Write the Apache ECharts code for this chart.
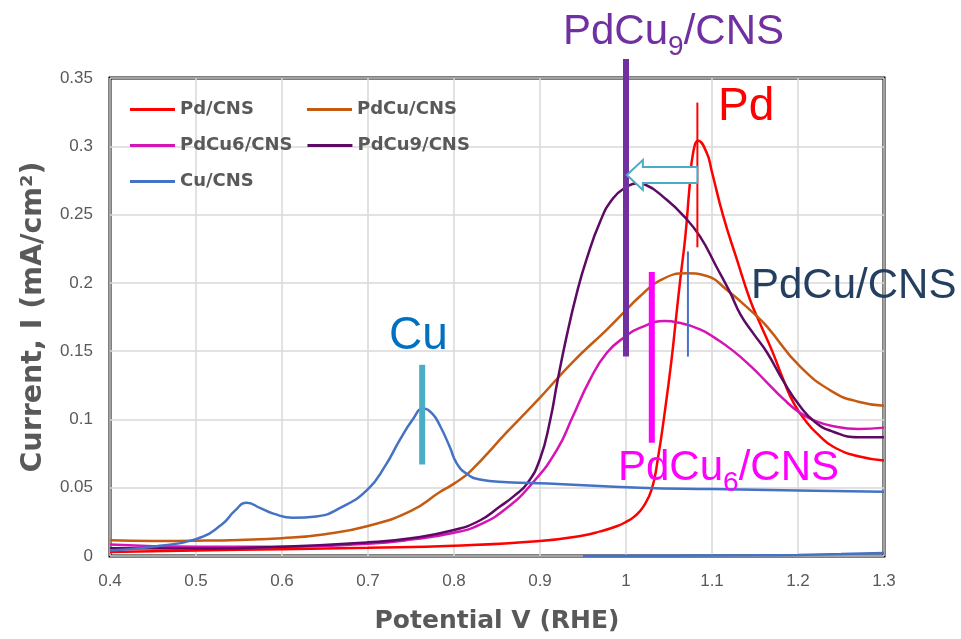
<!DOCTYPE html>
<html>
<head>
<meta charset="utf-8">
<script src="https://cdn.jsdelivr.net/npm/echarts@6/dist/echarts.min.js"></script>
<style>
  html, body { margin: 0; padding: 0; background: #ffffff; }
  #chart { width: 961px; height: 639px; }
</style>
</head>
<body>
<div id="chart"></div>
<script>
// Linear sweep voltammograms: [potential V vs RHE, current mA/cm²]
const seriesNames = ['Pd/CNS', 'PdCu/CNS', 'PdCu6/CNS', 'PdCu9/CNS', 'Cu/CNS'];

const pdCNS = [
  [0.40, 0.003], [0.50, 0.004], [0.60, 0.005], [0.70, 0.006], [0.80, 0.0075],
  [0.90, 0.011], [0.95, 0.015], [0.97, 0.018], [0.99, 0.022], [1.00, 0.025],
  [1.01, 0.029], [1.02, 0.036], [1.03, 0.049], [1.037, 0.071], [1.045, 0.105],
  [1.053, 0.144], [1.058, 0.173], [1.063, 0.202], [1.069, 0.234], [1.074, 0.271],
  [1.078, 0.295], [1.084, 0.304], [1.094, 0.295], [1.100, 0.281], [1.113, 0.249],
  [1.129, 0.217], [1.144, 0.188], [1.156, 0.170], [1.170, 0.150], [1.183, 0.129],
  [1.195, 0.112], [1.210, 0.098], [1.225, 0.088], [1.241, 0.080], [1.270, 0.073],
  [1.300, 0.070]
];

const pdCuCNS = [
  [0.40, 0.0115], [0.45, 0.011], [0.50, 0.0112], [0.55, 0.0118], [0.60, 0.013],
  [0.65, 0.016], [0.70, 0.022], [0.75, 0.033], [0.784, 0.047], [0.80, 0.053],
  [0.819, 0.062], [0.862, 0.091], [0.90, 0.116], [0.938, 0.142], [0.978, 0.166],
  [1.00, 0.180], [1.016, 0.190], [1.040, 0.202], [1.071, 0.207], [1.094, 0.205],
  [1.117, 0.195], [1.148, 0.178], [1.164, 0.168], [1.202, 0.139], [1.241, 0.120],
  [1.270, 0.113], [1.300, 0.110]
];

const pdCu6CNS = [
  [0.40, 0.0085], [0.50, 0.0068], [0.60, 0.0068], [0.70, 0.009], [0.75, 0.012],
  [0.80, 0.017], [0.83, 0.023], [0.861, 0.035], [0.892, 0.054], [0.92, 0.078],
  [0.938, 0.102], [0.958, 0.129], [0.978, 0.149], [1.00, 0.161], [1.016, 0.167],
  [1.045, 0.172], [1.060, 0.171], [1.086, 0.166], [1.105, 0.159], [1.125, 0.150],
  [1.145, 0.139], [1.164, 0.127], [1.183, 0.115], [1.202, 0.105], [1.220, 0.099],
  [1.241, 0.095], [1.270, 0.093], [1.300, 0.094]
];

const pdCu9CNS = [
  [0.40, 0.0056], [0.50, 0.0055], [0.60, 0.0068], [0.70, 0.010], [0.75, 0.013],
  [0.80, 0.019], [0.83, 0.026], [0.853, 0.036], [0.870, 0.044], [0.885, 0.053],
  [0.900, 0.071], [0.912, 0.100], [0.920, 0.127], [0.931, 0.161], [0.943, 0.193],
  [0.954, 0.217], [0.970, 0.245], [0.985, 0.262], [1.000, 0.270], [1.013, 0.273],
  [1.022, 0.272], [1.047, 0.261], [1.067, 0.249], [1.086, 0.234], [1.105, 0.212],
  [1.121, 0.193], [1.133, 0.177], [1.148, 0.163], [1.164, 0.149], [1.183, 0.128],
  [1.202, 0.110], [1.220, 0.098], [1.241, 0.091], [1.270, 0.087], [1.300, 0.087]
];

const cuCNS = [
  [0.40, 0.004], [0.45, 0.0068], [0.50, 0.0124], [0.53, 0.023], [0.545, 0.033],
  [0.559, 0.039], [0.575, 0.035], [0.59, 0.031], [0.613, 0.028], [0.64, 0.029],
  [0.67, 0.036], [0.70, 0.049], [0.72, 0.066], [0.737, 0.085], [0.752, 0.100],
  [0.764, 0.108], [0.775, 0.104], [0.784, 0.095], [0.795, 0.080], [0.803, 0.068],
  [0.815, 0.060], [0.83, 0.056], [0.862, 0.054], [0.909, 0.053], [1.016, 0.050],
  [1.10, 0.049], [1.20, 0.048], [1.30, 0.047]
];

// Cu/CNS trace running along the baseline at high potential
const cuCNSBaseline = [
  [0.95, 0.0], [1.05, 0.0002], [1.15, 0.0005], [1.20, 0.0008], [1.25, 0.0014], [1.30, 0.0022]
];

const seriesColors = ['#FF0000', '#C55A11', '#D414B4', '#5C0A64', '#4472C4'];

// Peak-position markers, in axis units
const peakMarkers = [
  { x: 1.000, from: 0.146, to: 0.364, color: '#7030A0', width: 6 },
  { x: 1.083, from: 0.226, to: 0.332, color: '#FF0000', width: 2 },
  { x: 1.072, from: 0.146, to: 0.223, color: '#4472C4', width: 2 },
  { x: 1.030, from: 0.083, to: 0.208, color: '#FF00FF', width: 6 },
  { x: 0.763, from: 0.067, to: 0.140, color: '#4BACC6', width: 6 }
];

// Peak shift arrow, from the Pd peak towards the PdCu9 peak
const shiftArrow = { from: 1.083, to: 1.001, y: 0.279 };

// Callout labels: text runs, subscripts flagged
const callouts = [
  { runs: [['PdCu', false], ['9', true], ['/CNS', false]], left: 563, baseline: 47, size: 42, sub: 28, color: '#7030A0' },
  { runs: [['Pd', false]], left: 718, baseline: 123, size: 46, sub: 0, color: '#FF0000' },
  { runs: [['PdCu/CNS', false]], left: 751, baseline: 301, size: 42, sub: 0, color: '#243F60' },
  { runs: [['Cu', false]], left: 389, baseline: 352, size: 46, sub: 0, color: '#0070C0' },
  { runs: [['PdCu', false], ['6', true], ['/CNS', false]], left: 618, baseline: 483, size: 42, sub: 28, color: '#FF00FF' }
];

const titleFont = '"DejaVu Sans", sans-serif';
const tickFont = '"Liberation Sans", Arial, sans-serif';
const calloutFont = '"Liberation Sans", Arial, sans-serif';

const chart = echarts.init(document.getElementById('chart'), null, { renderer: 'canvas' });

const curveData = [pdCNS, pdCuCNS, pdCu6CNS, pdCu9CNS, cuCNS];
const series = curveData.map((d, i) => ({
  name: seriesNames[i],
  type: 'line',
  data: d,
  showSymbol: false,
  symbol: 'none',
  smooth: 0.5,
  color: seriesColors[i],
  lineStyle: { width: 2.5, color: seriesColors[i] },
  z: 3
}));
series.push({
  name: 'Cu/CNS baseline',
  type: 'line',
  data: cuCNSBaseline,
  showSymbol: false,
  symbol: 'none',
  smooth: 0.5,
  color: seriesColors[4],
  lineStyle: { width: 2.5, color: seriesColors[4] },
  z: 3
});

chart.setOption({
  animation: false,
  backgroundColor: '#ffffff',
  grid: {
    left: 110, right: 77, top: 78, bottom: 80,
    show: true, borderColor: '#000000', borderWidth: 3,
    backgroundColor: 'transparent'
  },
  legend: {
    data: seriesNames,
    left: 130, top: 99, width: 360, padding: 0,
    itemWidth: 45, itemHeight: 3, itemGap: 15,
    icon: 'rect',
    selectedMode: false,
    textStyle: {
      fontFamily: titleFont, fontWeight: 'bold', fontSize: 18,
      color: '#595959', width: 112, lineHeight: 21
    }
  },
  xAxis: {
    type: 'value', min: 0.4, max: 1.3, interval: 0.1,
    name: 'Potential V (RHE)', nameLocation: 'middle', nameGap: 53,
    nameTextStyle: { fontFamily: titleFont, fontWeight: 'bold', fontSize: 25, color: '#595959' },
    axisLine: { show: false }, axisTick: { show: false },
    axisLabel: { color: '#595959', fontSize: 17, fontFamily: tickFont, margin: 17 },
    splitLine: { show: true, lineStyle: { color: '#D9D9D9', width: 1.5 } }
  },
  yAxis: {
    type: 'value', min: 0, max: 0.35, interval: 0.05,
    name: 'Current, I (mA/cm²)', nameLocation: 'middle', nameGap: 62,
    nameTextStyle: { fontFamily: titleFont, fontWeight: 'bold', fontSize: 28.5, color: '#595959' },
    axisLine: { show: false }, axisTick: { show: false },
    axisLabel: { color: '#595959', fontSize: 17, fontFamily: tickFont, margin: 17 },
    splitLine: { show: true, lineStyle: { color: '#D9D9D9', width: 1.5 } }
  },
  series: series
});

// Annotation layer
const measureCtx = document.createElement('canvas').getContext('2d');
function textWidth(t, size) {
  measureCtx.font = size + 'px ' + calloutFont;
  return measureCtx.measureText(t).width;
}
const toPx = (x, y) => chart.convertToPixel({ gridIndex: 0 }, [x, y]);

const graphics = [];

peakMarkers.forEach(m => {
  const a = toPx(m.x, m.from);
  const b = toPx(m.x, m.to);
  graphics.push({
    type: 'line', silent: true, z: 50,
    shape: { x1: a[0], y1: a[1], x2: b[0], y2: b[1] },
    style: { stroke: m.color, lineWidth: m.width, lineCap: 'butt' }
  });
});

(function () {
  const tail = toPx(shiftArrow.from, shiftArrow.y);
  const tip = toPx(shiftArrow.to, shiftArrow.y);
  const headLen = 16, headHalf = 15, shaftHalf = 8;
  const hx = tip[0] + headLen, cy = tip[1];
  graphics.push({
    type: 'polygon', silent: true, z: 60,
    shape: {
      points: [
        [tip[0], cy], [hx, cy - headHalf], [hx, cy - shaftHalf], [tail[0], cy - shaftHalf],
        [tail[0], cy + shaftHalf], [hx, cy + shaftHalf], [hx, cy + headHalf]
      ]
    },
    style: { fill: '#FFFFFF', stroke: '#4BACC6', lineWidth: 2, lineJoin: 'miter' }
  });
})();

callouts.forEach(c => {
  let x = c.left;
  c.runs.forEach(([t, isSub]) => {
    const s = isSub ? c.sub : c.size;
    const base = isSub ? c.baseline + 10 : c.baseline;
    graphics.push({
      type: 'text', silent: true, z: 70,
      x: x, y: base - 0.3465 * s,
      style: {
        text: t, fontSize: s, fontFamily: calloutFont, fill: c.color,
        align: 'left', verticalAlign: 'middle'
      }
    });
    x += textWidth(t, s);
  });
});

chart.setOption({ graphic: graphics });
</script>
</body>
</html>
